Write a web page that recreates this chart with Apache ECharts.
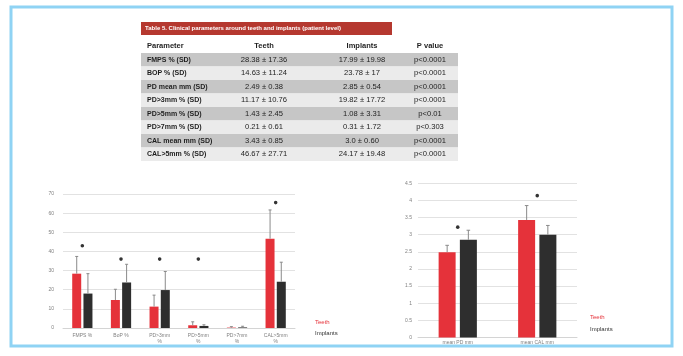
<!DOCTYPE html>
<html>
<head>
<meta charset="utf-8">
<script src="https://cdn.jsdelivr.net/npm/echarts@6/dist/echarts.min.js"></script>
<style>
  html, body { margin: 0; padding: 0; background: #ffffff; }
  #chart { width: 683px; height: 356px; }
</style>
</head>
<body>
<div id="chart"></div>
<script>
// ---- Table 5 content ----
const tableTitle = 'Table 5. Clinical parameters around teeth and implants (patient level)';
const tableHeader = ['Parameter', 'Teeth', 'Implants', 'P value'];
const tableParams = ['FMPS % (SD)', 'BOP % (SD)', 'PD mean mm (SD)', 'PD>3mm % (SD)', 'PD>5mm % (SD)', 'PD>7mm % (SD)', 'CAL mean mm (SD)', 'CAL>5mm % (SD)'];
const tableTeeth = ['28.38 ± 17.36', '14.63 ± 11.24', '2.49 ± 0.38', '11.17 ± 10.76', '1.43 ± 2.45', '0.21 ± 0.61', '3.43 ± 0.85', '46.67 ± 27.71'];
const tableImplants = ['17.99 ± 19.98', '23.78 ± 17', '2.85 ± 0.54', '19.82 ± 17.72', '1.08 ± 3.31', '0.31 ± 1.72', '3.0 ± 0.60', '24.17 ± 19.48'];
const tablePValues = ['p<0.0001', 'p<0.0001', 'p<0.0001', 'p<0.0001', 'p<0.01', 'p<0.303', 'p<0.0001', 'p<0.0001'];

// ---- Percentage chart ----
const pctCategories = ['FMPS %', 'BoP %', 'PD>3mm\n%', 'PD>5mm\n%', 'PD>7mm\n%', 'CAL>5mm\n%'];
const pctTeeth = [28.38, 14.63, 11.17, 1.43, 0.21, 46.67];
const pctImplants = [17.99, 23.78, 19.82, 1.08, 0.31, 24.17];
const pctTeethErr = [9.0, 5.6, 6.0, 1.8, 0.5, 15.0];
const pctImplantsErr = [10.4, 9.5, 9.7, 0.6, 0.6, 10.2];
const pctStars = [[0, 43], [1, 36], [2, 36], [3, 36], [5, 65.5]];

// ---- Millimetre chart ----
const mmCategories = ['mean PD mm', 'mean CAL mm'];
const mmTeeth = [2.49, 3.43];
const mmImplants = [2.85, 3.0];
const mmTeethErr = [0.2, 0.42];
const mmImplantsErr = [0.28, 0.27];
const mmStars = [[0, 3.22], [1, 4.14]];

const RED = '#e5323a';
const DARK = '#2e2e2e';
const ERR = '#8a8a8a';
const GRIDLINE = '#e2e2e2';
const AXISTXT = '#808080';

// ---- Table drawn as graphic elements ----
const tblLeft = 141, tblRight = 458, rowTop = 53, rowH = 13.5;
const colX = [147, 264, 362, 430];
const tableGraphics = [];
tableGraphics.push({ type: 'rect', shape: { x: tblLeft, y: 22, width: 251, height: 13 }, style: { fill: '#b5382f' } });
tableGraphics.push({ type: 'text', x: 145, y: 28.5, style: { text: tableTitle, fill: '#ffffff', font: 'bold 6px "Liberation Sans Narrow", "Liberation Sans", sans-serif', textVerticalAlign: 'middle' } });
tableHeader.forEach(function (h, i) {
  tableGraphics.push({ type: 'text', x: colX[i], y: 46, style: { text: h, fill: '#1e1e1e', font: 'bold 7.5px "Liberation Sans", sans-serif', textAlign: i === 0 ? 'left' : 'center', textVerticalAlign: 'middle' } });
});
tableParams.forEach(function (p, r) {
  const y = rowTop + r * rowH;
  tableGraphics.push({ type: 'rect', shape: { x: tblLeft, y: y, width: tblRight - tblLeft, height: rowH }, style: { fill: r % 2 === 0 ? '#c6c6c6' : '#ebebeb' } });
  const cy = y + rowH / 2;
  const cells = [p, tableTeeth[r], tableImplants[r], tablePValues[r]];
  cells.forEach(function (c, i) {
    tableGraphics.push({ type: 'text', x: colX[i], y: cy, style: { text: c, fill: '#1e1e1e', font: (i === 0 ? 'bold 7px ' : '7.6px ') + '"Liberation Sans", sans-serif', textAlign: i === 0 ? 'left' : 'center', textVerticalAlign: 'middle' } });
  });
});

// ---- Error bars and significance markers ----
function errorBarRenderer(offset, cap) {
  return function (params, api) {
    const ci = api.value(0), v = api.value(1), e = api.value(2);
    const p0 = api.coord([ci, v]);
    const p1 = api.coord([ci, v + e]);
    const x = p0[0] + offset;
    return {
      type: 'group',
      children: [
        { type: 'line', shape: { x1: x, y1: p0[1], x2: x, y2: p1[1] }, style: { stroke: ERR, lineWidth: 1 } },
        { type: 'line', shape: { x1: x - cap, y1: p1[1], x2: x + cap, y2: p1[1] }, style: { stroke: ERR, lineWidth: 1 } }
      ]
    };
  };
}
function starRenderer(params, api) {
  const p = api.coord([api.value(0), api.value(1)]);
  return { type: 'circle', shape: { cx: p[0], cy: p[1], r: 1.8 }, style: { fill: '#333333' } };
}
function errData(vals, errs) { return vals.map(function (v, i) { return [i, v, errs[i]]; }); }

const chart = echarts.init(document.getElementById('chart'), null, { renderer: 'canvas' });

chart.setOption({
  animation: false,
  backgroundColor: '#ffffff',
  textStyle: { fontFamily: '"Liberation Sans", sans-serif' },
  graphic: [
    { type: 'rect', shape: { x: 11, y: 7, width: 661, height: 339 }, style: { fill: 'none', stroke: '#8fd3f4', lineWidth: 3 }, z: 10 }
  ].concat(tableGraphics),
  legend: [
    {
      left: 310, top: 319, orient: 'vertical', itemWidth: 0, itemHeight: 0, itemGap: 5, padding: 0,
      textStyle: { fontSize: 6 },
      data: [{ name: 'Teeth', textStyle: { color: RED } }, { name: 'Implants', textStyle: { color: '#333' } }]
    },
    {
      left: 585, top: 314, orient: 'vertical', itemWidth: 0, itemHeight: 0, itemGap: 6, padding: 0,
      textStyle: { fontSize: 6 },
      data: [{ name: 'Teeth', textStyle: { color: RED } }, { name: 'Implants', textStyle: { color: '#333' } }]
    }
  ],
  grid: [
    { left: 63, top: 194, width: 232, height: 134 },
    { left: 418, top: 183.3, width: 159, height: 154.2 }
  ],
  xAxis: [
    {
      type: 'category', gridIndex: 0, data: pctCategories,
      axisLine: { lineStyle: { color: '#d4d4d4' } }, axisTick: { show: false },
      axisLabel: { fontSize: 5, color: AXISTXT, margin: 5, lineHeight: 6, interval: 0 }
    },
    {
      type: 'category', gridIndex: 1, data: mmCategories,
      axisLine: { lineStyle: { color: '#d4d4d4' } }, axisTick: { show: false },
      axisLabel: { fontSize: 5, color: AXISTXT, margin: 3, interval: 0 }
    }
  ],
  yAxis: [
    {
      type: 'value', gridIndex: 0, min: 0, max: 70, interval: 10,
      axisLine: { show: false }, axisTick: { show: false },
      axisLabel: { fontSize: 5, color: AXISTXT, margin: 9 },
      splitLine: { lineStyle: { color: GRIDLINE } }
    },
    {
      type: 'value', gridIndex: 1, min: 0, max: 4.5, interval: 0.5,
      axisLine: { show: false }, axisTick: { show: false },
      axisLabel: { fontSize: 5, color: AXISTXT, margin: 6 },
      splitLine: { lineStyle: { color: GRIDLINE } }
    }
  ],
  series: [
    { name: 'Teeth', type: 'bar', xAxisIndex: 0, yAxisIndex: 0, data: pctTeeth, barWidth: 9, barGap: '25%', itemStyle: { color: RED } },
    { name: 'Implants', type: 'bar', xAxisIndex: 0, yAxisIndex: 0, data: pctImplants, barWidth: 9, barGap: '25%', itemStyle: { color: DARK } },
    { type: 'custom', xAxisIndex: 0, yAxisIndex: 0, renderItem: errorBarRenderer(-5.6, 1.5), data: errData(pctTeeth, pctTeethErr), encode: { x: 0, y: 1 }, z: 5 },
    { type: 'custom', xAxisIndex: 0, yAxisIndex: 0, renderItem: errorBarRenderer(5.6, 1.5), data: errData(pctImplants, pctImplantsErr), encode: { x: 0, y: 1 }, z: 5 },
    { type: 'custom', xAxisIndex: 0, yAxisIndex: 0, renderItem: starRenderer, data: pctStars, encode: { x: 0, y: 1 }, z: 5 },

    { name: 'Teeth', type: 'bar', xAxisIndex: 1, yAxisIndex: 1, data: mmTeeth, barWidth: 17, barGap: '25%', itemStyle: { color: RED } },
    { name: 'Implants', type: 'bar', xAxisIndex: 1, yAxisIndex: 1, data: mmImplants, barWidth: 17, barGap: '25%', itemStyle: { color: DARK } },
    { type: 'custom', xAxisIndex: 1, yAxisIndex: 1, renderItem: errorBarRenderer(-10.6, 1.8), data: errData(mmTeeth, mmTeethErr), encode: { x: 0, y: 1 }, z: 5 },
    { type: 'custom', xAxisIndex: 1, yAxisIndex: 1, renderItem: errorBarRenderer(10.6, 1.8), data: errData(mmImplants, mmImplantsErr), encode: { x: 0, y: 1 }, z: 5 },
    { type: 'custom', xAxisIndex: 1, yAxisIndex: 1, renderItem: starRenderer, data: mmStars, encode: { x: 0, y: 1 }, z: 5 }
  ]
});
</script>
</body>
</html>
